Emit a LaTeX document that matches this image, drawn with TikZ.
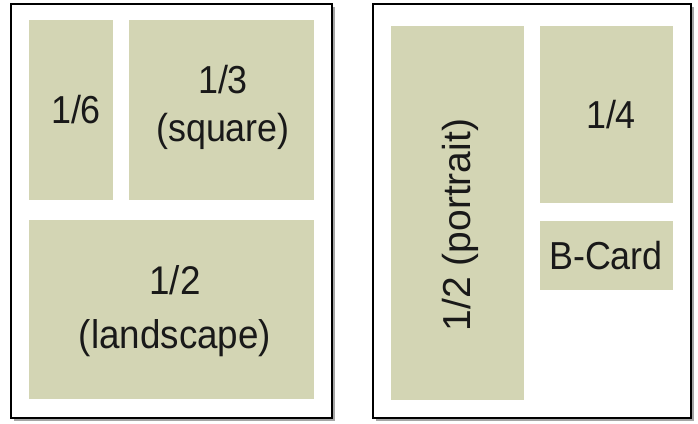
\documentclass[tikz,border=0pt]{standalone}
\usepackage{fontspec}
\usepackage{graphicx}
\setmainfont{Liberation Sans}
\usetikzlibrary{shadows}
\definecolor{panel}{RGB}{211,213,180}
\newcommand{\nar}[1]{\scalebox{0.92}[1]{#1}}
\tikzset{
  page/.style={draw=black, line width=2.8pt, fill=white,
    drop shadow={shadow xshift=2.5pt, shadow yshift=-2.5pt, opacity=0.5, fill=black!70}},
  block/.style={fill=panel, draw=none},
  lbl/.style={font=\fontsize{39}{48}\selectfont, align=center, text=black!90, inner sep=0pt}
}
\begin{document}
\begin{tikzpicture}[x=1pt,y=-1pt]
\useasboundingbox (0,0) rectangle (698,423);
% pages
\draw[page] (11,4) rectangle (332,418);
\draw[page] (373,4) rectangle (691,418);
% left page
\fill[block] (29,20) rectangle (113,200);
\fill[block] (129,20) rectangle (314,200);
\fill[block] (29,220) rectangle (314,399);
\node[lbl] (a) at (76,110) {\nar{1/6}};
\node[lbl] (b) at (223,107) {\nar{1/3}\\\nar{(square)}};
\node[lbl, font=\fontsize{40}{54}\selectfont] (c) at (175,311) {\nar{1/2}\\\nar{(landscape)}};
% right page
\fill[block] (391,26) rectangle (524,400);
\fill[block] (540,26) rectangle (673,203);
\fill[block] (540,221) rectangle (673,290);
\node[lbl, rotate=90] (d) at (460,225) {1/2 (portrait)};
\node[lbl] (e) at (611,115) {\nar{1/4}};
\node[lbl] (f) at (606,256) {\nar{B-Card}};
\end{tikzpicture}
\end{document}
